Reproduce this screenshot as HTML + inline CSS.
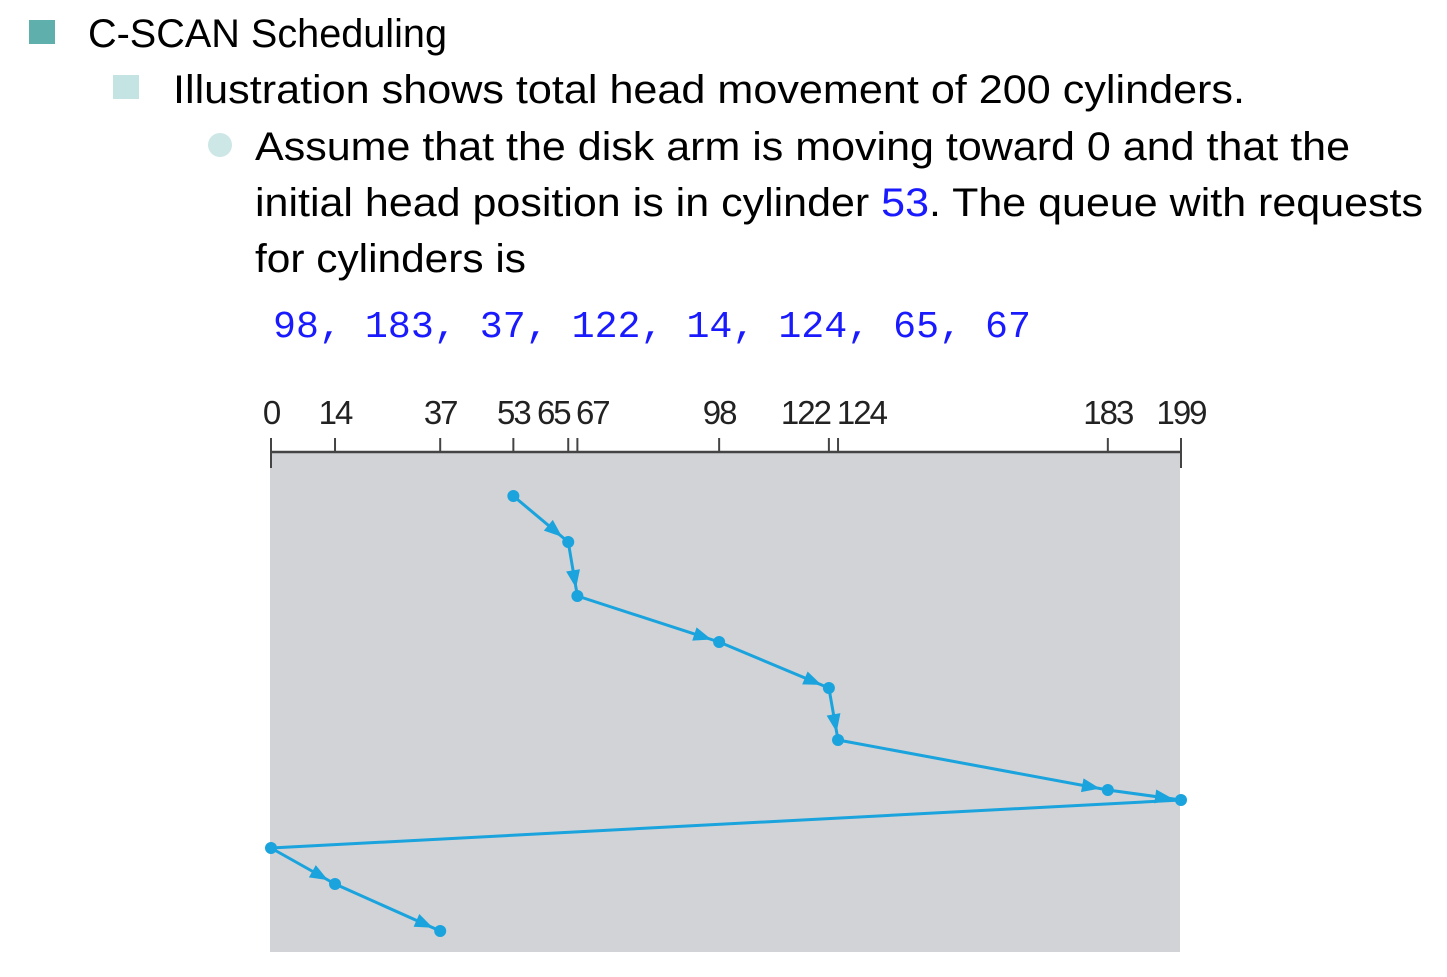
<!DOCTYPE html>
<html><head><meta charset="utf-8"><style>
html,body{margin:0;padding:0;background:#fff;}
svg{display:block;}
</style></head><body>
<svg id="s" width="1447" height="977" viewBox="0 0 1447 977" xmlns="http://www.w3.org/2000/svg" font-family="'Liberation Sans', sans-serif">
<rect x="29" y="20" width="26" height="24" fill="#5fafad"/>
<text x="88" y="47" font-size="40" textLength="359" lengthAdjust="spacingAndGlyphs" fill="#000">C-SCAN Scheduling</text>
<rect x="113" y="75" width="26" height="24" fill="#c4e3e3"/>
<text x="173" y="103" font-size="40" textLength="1072" lengthAdjust="spacingAndGlyphs">Illustration shows total head movement of 200 cylinders.</text>
<circle cx="220" cy="145" r="12" fill="#cde6e6"/>
<text x="255" y="160" font-size="40" textLength="1095" lengthAdjust="spacingAndGlyphs">Assume that the disk arm is moving toward 0 and that the</text>
<text x="255" y="216" font-size="40" textLength="1168" lengthAdjust="spacingAndGlyphs">initial head position is in cylinder <tspan fill="#1a1aff">53</tspan>. The queue with requests</text>
<text x="255" y="272" font-size="40" textLength="271" lengthAdjust="spacingAndGlyphs">for cylinders is</text>
<text x="273" y="337" font-size="38" font-family="'Liberation Mono', monospace" fill="#1a1aff" textLength="758" lengthAdjust="spacingAndGlyphs">98, 183, 37, 122, 14, 124, 65, 67</text>
<rect x="270" y="452" width="910" height="500" fill="#d1d3d6"/>
<g id="axis"></g>
<g id="path"></g>
</svg>
<script>
const tickValues = [0, 14, 37, 53, 65, 67, 98, 122, 124, 183, 199];
const serviceOrder = [53, 65, 67, 98, 122, 124, 183, 199, 0, 14, 37];
const stepRows = [0, 1, 2, 3, 4, 5, 6, 7, 8, 9, 10];
const stepY = [496, 542, 596, 642, 688, 740, 790, 800, 848, 884, 931];
const NS = 'http://www.w3.org/2000/svg';
const X0 = 271, X1 = 1181, DMAX = 199;
function xScale(v){ return X0 + v * (X1 - X0) / DMAX; }
function mk(tag, attrs, parent){ const e = document.createElementNS(NS, tag); for (const k in attrs) e.setAttribute(k, attrs[k]); parent.appendChild(e); return e; }
const axis = document.getElementById('axis');
const al = mk('line', {x1: X0, y1: 452, x2: X1, y2: 452, stroke: '#444', 'stroke-width': 2.5}, axis);


const lab = tickValues.map(v => ({c: xScale(v), w: String(v).length * 17}));
for (let it = 0; it < 200; it++) {
  for (let i = 0; i < lab.length - 1; i++) {
    const a = lab[i], b = lab[i+1];
    const ov = (a.c + a.w/2 + 5) - (b.c - b.w/2);
    if (ov > 0) { a.c -= ov/2; b.c += ov/2; }
  }
}
tickValues.forEach((v, i) => {
  const x = xScale(v);
  const end = (i === 0 || i === tickValues.length - 1);
  const t = mk('line', {x1: x, y1: 438, x2: x, y2: end ? 468 : 452, stroke: '#444', 'stroke-width': 2}, axis);
  
  
  const lb = mk('text', {x: lab[i].c, y: 424, 'font-size': 33, 'text-anchor': 'middle', fill: '#222', 'letter-spacing': '-2'}, axis);
  lb.textContent = String(v);
  
  
});
const g = document.getElementById('path');
const C = '#1aa3dd';
const pts = serviceOrder.map((v, i) => [xScale(v), stepY[stepRows[i]]]);
for (let i = 1; i < pts.length; i++) {
  const [ax, ay] = pts[i-1], [bx, by] = pts[i];
  const seg = mk('line', {x1: ax, y1: ay, x2: bx, y2: by, stroke: C, 'stroke-width': 3}, g);
  
  
  if (serviceOrder[i-1] === 199 && serviceOrder[i] === 0) continue;
  const dx = bx - ax, dy = by - ay, L = Math.hypot(dx, dy), ux = dx / L, uy = dy / L;
  const tx = bx - ux * 8, ty = by - uy * 8;
  const bxp = tx - ux * 18, byp = ty - uy * 18;
  const a = mk('polygon', {points: `${tx},${ty} ${bxp - uy*7},${byp + ux*7} ${bxp + uy*7},${byp - ux*7}`, fill: C}, g);
  
  
}
pts.forEach((p, i) => {
  const c = mk('circle', {cx: p[0], cy: p[1], r: 6, fill: C}, g);
  
  
});
</script>
</body></html>
